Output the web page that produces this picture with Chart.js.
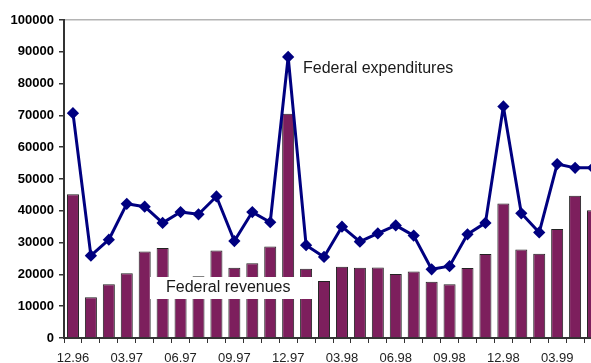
<!DOCTYPE html>
<html lang="en">
<head>
    <meta charset="UTF-8">
    <title>Federal revenues and expenditures</title>
    <script src="https://cdn.jsdelivr.net/npm/chart.js"></script>
    <style>
        html, body { margin: 0; padding: 0; background: #fff; overflow: hidden; }
        .chart-box { position: relative; width: 609px; height: 363px; }
    </style>
</head>
<body>

<div class="chart-box">
    <canvas id="budgetChart"></canvas>
</div>

<script>
// monthly figures, Dec 1996 - May 1999
const months = [
    "12.96", "01.97", "02.97", "03.97", "04.97", "05.97", "06.97", "07.97", "08.97", "09.97",
    "10.97", "11.97", "12.97", "01.98", "02.98", "03.98", "04.98", "05.98", "06.98", "07.98",
    "08.98", "09.98", "10.98", "11.98", "12.98", "01.99", "02.99", "03.99", "04.99", "05.99"
];
const revenues = [
    45200, 12800, 16900, 20400, 27200, 28300, 18500, 19400, 27500, 22100,
    23500, 28800, 70500, 21800, 17900, 22400, 22100, 22200, 20100, 20900,
    17700, 16900, 22000, 26400, 42300, 27800, 26500, 34300, 44700, 40200
];
const expenditures = [
    70700, 25900, 30900, 42200, 41300, 36200, 39600, 38900, 44500, 30500,
    39600, 36400, 88400, 29200, 25500, 35000, 30300, 32900, 35400, 32200,
    21600, 22600, 32600, 36200, 72800, 39200, 33200, 54700, 53500, 53500
];
const yTicks = [0, 10000, 20000, 30000, 40000, 50000, 60000, 70000, 80000, 90000, 100000];

const font = "'Liberation Sans', Arial, sans-serif";

// series captions written straight onto the plot
const captions = {
    id: "captions",
    afterDatasetsDraw(chart) {
        const ctx = chart.ctx;
        ctx.save();
        ctx.font = "16px " + font;
        ctx.textBaseline = "middle";
        ctx.fillStyle = "#1a1a1a";
        ctx.fillText("Federal expenditures", 303, 69);

        ctx.fillStyle = "#ffffff";
        ctx.fillRect(150, 277, 162, 22);
        ctx.fillStyle = "#1a1a1a";
        ctx.fillText("Federal revenues", 166, 288);
        ctx.restore();
    }
};

new Chart(document.getElementById("budgetChart"), {
    type: "bar",
    data: {
        labels: months,
        datasets: [{
            type: "line",
            label: "Federal expenditures",
            data: expenditures,
            borderColor: "#000080",
            backgroundColor: "#000080",
            borderWidth: 3,
            borderJoinStyle: "round",
            pointStyle: "rectRot",
            pointRadius: 4,
            pointHoverRadius: 4,
            tension: 0,
            order: 1
        }, {
            label: "Federal revenues",
            data: revenues,
            backgroundColor: "#7d1f5d",
            borderColor: "#222222",
            borderWidth: 1,
            categoryPercentage: 1,
            barPercentage: 0.67,
            order: 2
        }]
    },
    options: {
        responsive: true,
        maintainAspectRatio: false,
        animation: false,
        events: [],
        layout: { padding: { top: 20, left: 0, right: 0, bottom: 0 } },
        plugins: {
            legend: { display: false },
            tooltip: { enabled: false }
        },
        scales: {
            x: {
                grid: {
                    offset: true,
                    color: "rgba(0,0,0,0)",
                    tickColor: "#333333",
                    tickLength: 5
                },
                border: { color: "#333333", width: 2 },
                ticks: {
                    autoSkip: false,
                    maxRotation: 0,
                    padding: 8,
                    color: "#222222",
                    font: { family: font, size: 13 },
                    callback: (v, i) => (i % 3 === 0 ? months[i] : "")
                },
                afterFit: s => { s.height = 25; }
            },
            y: {
                min: 0,
                max: 100000,
                afterBuildTicks: s => { s.ticks = yTicks.map(v => ({ value: v })); },
                grid: {
                    color: c => (c.tick && c.tick.value === 100000 ? "#b4b4b4" : "rgba(0,0,0,0)"),
                    lineWidth: 1.5,
                    tickColor: "#333333",
                    tickLength: 5
                },
                border: { color: "#333333", width: 2 },
                ticks: {
                    padding: 5,
                    color: "#000000",
                    font: { family: font, size: 13, weight: "bold" },
                    callback: v => String(v)
                },
                afterFit: s => { s.width = 64; }
            }
        }
    },
    plugins: [captions]
});
</script>

</body>
</html>
